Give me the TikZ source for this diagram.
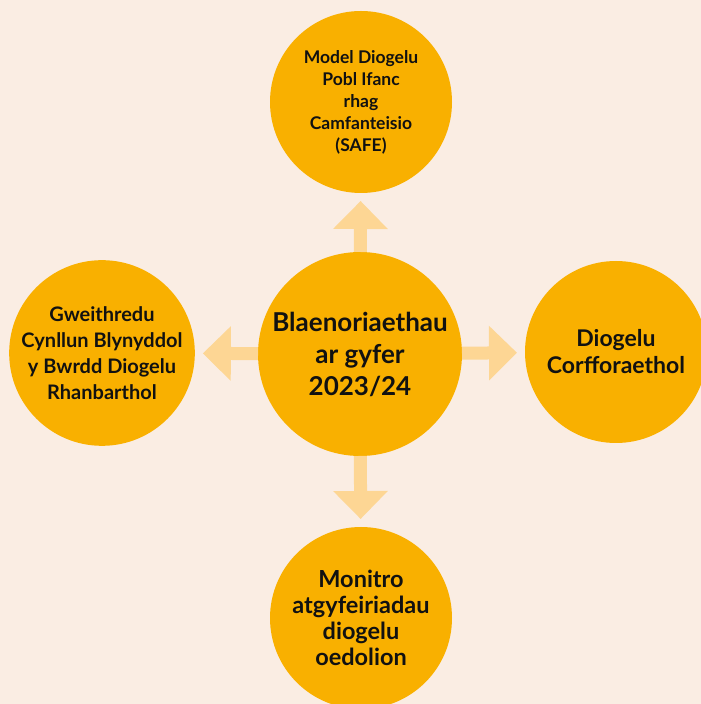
\documentclass[tikz,border=0pt]{standalone}
\usepackage{fontspec}
\setmainfont{Lato}
\usepackage{xcolor}
\usepackage{tikz}
\usetikzlibrary{arrows.meta, positioning}

\definecolor{bgpeach}{RGB}{250,237,227}
\definecolor{circorange}{RGB}{249,176,0}
\definecolor{arrowpale}{RGB}{253,214,148}
\definecolor{textdark}{RGB}{17,17,17}

\begin{document}
\begin{tikzpicture}[x=1pt, y=1pt, >={Triangle[width=53pt, length=28pt]},
    blob/.style={circle, fill=circorange, text=textdark, align=center,
        inner sep=0pt, outer sep=0pt, minimum size=182pt},
    pointer/.style={->, draw=arrowpale, fill=arrowpale, line width=13pt, shorten >=8pt}]
    % Nền
    \path[use as bounding box, clip] (0,0) rectangle (701,704);
    \fill[bgpeach] (0,0) rectangle (701,704);

    % Vòng tròn giữa
    \node[blob, minimum size=204pt, font=\bfseries\fontsize{26}{32}\selectfont] (priorities) at (360,350)
        {Blaenoriaethau\\ar gyfer\\2023/24};

    % Bốn vòng tròn xung quanh
    \node[blob, font=\bfseries\fontsize{17.5}{22}\selectfont] (safe) at (361,602)
        {Model Diogelu\\Pobl Ifanc\\rhag\\Camfanteisio\\(SAFE)};
    \node[blob, font=\bfseries\fontsize{23}{27}\selectfont] (corporate) at (616,352)
        {Diogelu\\Corfforaethol};
    \node[blob, font=\bfseries\fontsize{23.5}{26}\selectfont] (adults) at (361,86)
        {Monitro\\atgyfeiriadau\\diogelu\\oedolion};
    \node[blob, font=\bfseries\fontsize{20}{26}\selectfont] (board) at (102,351)
        {Gweithredu\\Cynllun Blynyddol\\y Bwrdd Diogelu\\Rhanbarthol};

    % Mũi tên
    \foreach \n in {safe, corporate, adults, board}
        \draw[pointer] (priorities) -- (\n);
\end{tikzpicture}
\end{document}
